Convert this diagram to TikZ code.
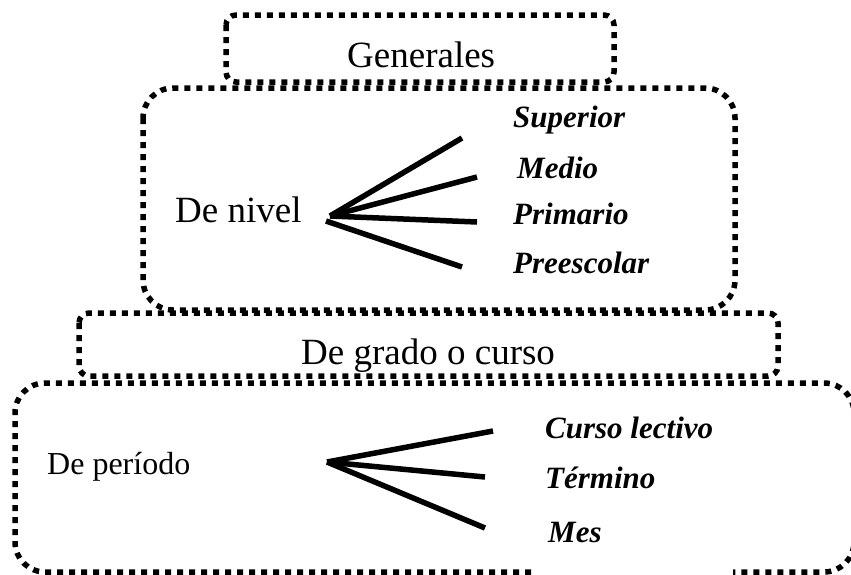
\documentclass[tikz,border=0pt]{standalone}
\usepackage{fontspec}
\setmainfont{Liberation Serif}
\begin{document}
\begin{tikzpicture}[x=1pt,y=-1pt,
  dotbox/.style={line width=5.5pt,dash pattern=on 6pt off 6pt,fill=white},
  big/.style={inner sep=0pt,anchor=base west,font=\fontsize{37}{44}\selectfont},
  mid/.style={inner sep=0pt,anchor=base west,font=\fontsize{32}{38}\selectfont},
  lab/.style={inner sep=0pt,anchor=base west,font=\fontsize{31}{37}\selectfont\bfseries\itshape},
  fan/.style={line width=5.5pt}]
\useasboundingbox (0,0) rectangle (851,574);
\clip (0,0) rectangle (851,574);
% box 1
\draw[dotbox,rounded corners=10pt] (226,15) rectangle (614,82);
\node[big] (gen) at (347,67) {Generales};
% box 2
\draw[dotbox,rounded corners=30pt] (143,88) rectangle (735,310);
\node[big] (niv) at (175,222) {De nivel};
\node[lab] (sup) at (513,127) {Superior};
\node[lab] (med) at (517,178) {Medio};
\node[lab] (pri) at (513,224) {Primario};
\node[lab] (pre) at (513,273) {Preescolar};
\coordinate (h1) at (330,216);
\coordinate (h2) at (326,221);
\coordinate (e1) at (462,138);
\coordinate (e2) at (477,177);
\coordinate (e3) at (477,222);
\coordinate (e4) at (462,267);
\draw[fan] (h1) -- (e1);
\draw[fan] (h1) -- (e2);
\draw[fan] (h1) -- (e3);
\draw[fan] (h2) -- (e4);
% box 3
\draw[dotbox,rounded corners=10pt] (79,313) rectangle (778,376);
\node[big] (gra) at (301,364) {De grado o curso};
% box 4 (open at the bottom gap)
\draw[dotbox,rounded corners=30pt] (531,572) -- (15,572) -- (15,383) -- (854,383) -- (854,572) -- (733,572);
\node[mid] (per) at (47,474) {De período};
\node[lab] (cur) at (545,438) {Curso lectivo};
\node[lab] (ter) at (545,488) {Término};
\node[lab] (mes) at (548,542) {Mes};
\coordinate (k) at (327,462);
\coordinate (f1) at (493,431);
\coordinate (f2) at (485,477);
\coordinate (f3) at (485,528);
\draw[fan] (k) -- (f1);
\draw[fan] (k) -- (f2);
\draw[fan] (k) -- (f3);
\end{tikzpicture}
\end{document}
